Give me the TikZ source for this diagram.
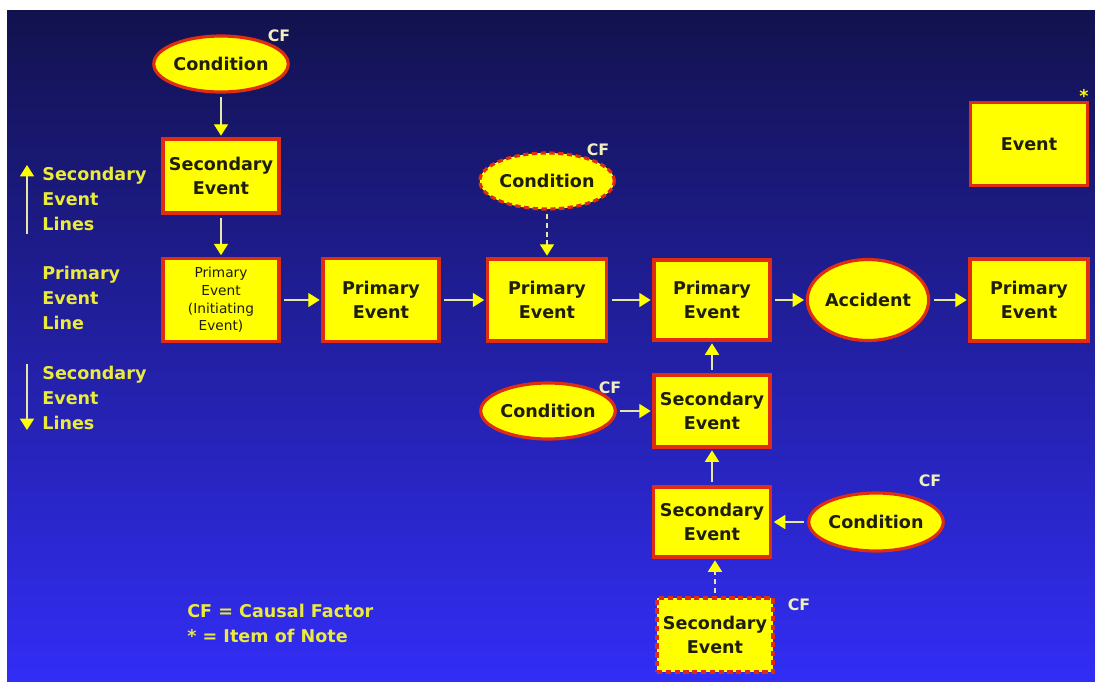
\documentclass[tikz,border=0pt]{standalone}
\usepackage{fontspec}
\setmainfont{DejaVu Sans}
\usetikzlibrary{shapes.geometric,arrows.meta}
\definecolor{boxyellow}{RGB}{255,255,0}
\definecolor{boxred}{RGB}{225,45,15}
\definecolor{boxtext}{RGB}{30,30,10}
\definecolor{lblyellow}{RGB}{235,235,60}
\definecolor{cfcol}{RGB}{240,240,190}
\definecolor{linecol}{RGB}{230,230,170}
\definecolor{bgtop}{RGB}{18,18,78}
\definecolor{bgmid}{RGB}{32,36,180}
\definecolor{bgbot}{RGB}{50,45,245}
\tikzset{
  boxfont/.style={font=\bfseries\fontsize{10}{13.5}\selectfont},
  evbox/.style={rectangle, draw=boxred, fill=boxyellow, line width=1.8pt, text=boxtext, align=center, inner sep=0pt, boxfont, minimum width=2.32cm, minimum height=1.6cm},
  secbox/.style={evbox, minimum height=1.44cm},
  condell/.style={ellipse, draw=boxred, fill=boxyellow, line width=1.8pt, text=boxtext, align=center, inner sep=0pt, boxfont, minimum width=2.58cm, minimum height=1.12cm},
  dashedborder/.style={dashed, dash pattern=on 3pt off 2pt},
  conn/.style={draw=linecol, line width=0.8pt, -{Triangle[length=6.5pt,width=8pt,fill=boxyellow,color=boxyellow]}, shorten >=1pt, shorten <=2pt},
  cf/.style={text=cfcol, font=\bfseries\fontsize{9}{10}\selectfont, inner sep=0pt},
  sidelbl/.style={text=lblyellow, align=left, anchor=west, inner sep=0pt, font=\bfseries\fontsize{10}{14.2}\selectfont},
  legend/.style={text=lblyellow, anchor=west, inner sep=0pt, font=\bfseries\fontsize{10}{12}\selectfont}
}
\begin{document}
\begin{tikzpicture}[x=0.02cm,y=-0.02cm]
\useasboundingbox (0,0) rectangle (1095,681);
\fill[white] (0,0) rectangle (1095,681);
\shade[top color=bgtop, middle color=bgmid, bottom color=bgbot] (7,10) rectangle (1095,681);

% side labels
\node[sidelbl] (slup) at (42,199) {Secondary\\Event\\Lines};
\node[sidelbl] (pel) at (42,298) {Primary\\Event\\Line};
\node[sidelbl] (sldn) at (42,398) {Secondary\\Event\\Lines};
\coordinate (upA) at (27,234);
\coordinate (upB) at (27,165);
\coordinate (dnA) at (27,364);
\coordinate (dnB) at (27,430);
\draw[conn, shorten <=0pt, shorten >=0pt] (upA) -- (upB);
\draw[conn, shorten <=0pt, shorten >=0pt] (dnA) -- (dnB);

% nodes
\node[condell] (c1) at (221,64) {Condition};
\node[cf] (cf1) at (279,36) {CF};
\node[secbox, minimum height=1.48cm] (se1) at (221,176) {Secondary\\Event};
\node[evbox, minimum height=1.66cm, font=\fontsize{7.8}{10}\selectfont] (pe1) at (221,300) {Primary\\Event\\(Initiating\\Event)};
\node[evbox, minimum height=1.66cm] (pe2) at (381,300) {Primary\\Event};
\node[evbox, minimum height=1.64cm, minimum width=2.38cm] (pe3) at (547,300) {Primary\\Event};
\node[condell, dashedborder, minimum width=2.64cm] (c2) at (547,181) {Condition};
\node[cf] (cf2) at (598,150) {CF};
\node[evbox] (pe4) at (712,300) {Primary\\Event};
\node[ellipse, draw=boxred, fill=boxyellow, line width=1.8pt, text=boxtext, inner sep=0pt, boxfont, minimum width=1.94cm, minimum height=1.62cm] (acc) at (868,300) {Accident};
\node[evbox, minimum width=2.36cm, minimum height=1.64cm] (pe5) at (1029,300) {Primary\\Event};
\node[evbox, minimum width=2.34cm, minimum height=1.66cm] (ev) at (1029,144) {Event};
\node[text=boxyellow, font=\bfseries\fontsize{10}{10}\selectfont, inner sep=0pt] (note) at (1084,96) {*};

\node[secbox] (se2) at (712,411) {Secondary\\Event};
\node[condell, minimum width=2.56cm] (c3) at (548,411) {Condition};
\node[cf] (cf3) at (610,388) {CF};
\node[secbox, minimum height=1.4cm, minimum width=2.34cm] (se3) at (712,522) {Secondary\\Event};
\node[condell, minimum width=2.56cm, minimum height=1.16cm] (c4) at (876,522) {Condition};
\node[cf] (cf4) at (930,481) {CF};
\node[secbox, dashedborder, minimum height=1.48cm] (se4) at (715,635) {Secondary\\Event};
\node[cf] (cf5) at (799,605) {CF};

% connectors
\draw[conn] (c1) -- (se1);
\draw[conn] (se1) -- (pe1);
\draw[conn] (pe1) -- (pe2);
\draw[conn] (pe2) -- (pe3);
\draw[conn] (pe3) -- (pe4);
\draw[conn] (pe4) -- (acc);
\draw[conn] (acc) -- (pe5);
\draw[conn, dash pattern=on 3pt off 2pt] (c2) -- (pe3);
\draw[conn] (se2) -- (pe4);
\draw[conn] (c3) -- (se2);
\draw[conn] (se3) -- (se2);
\draw[conn] (c4) -- (se3);
\draw[conn, dash pattern=on 3pt off 2pt] (se4) -- (se4.north |- se3.south);

% legend
\node[legend] (lg1) at (187,611) {CF = Causal Factor};
\node[legend] (lg2) at (187,636) {* = Item of Note};
\end{tikzpicture}
\end{document}
